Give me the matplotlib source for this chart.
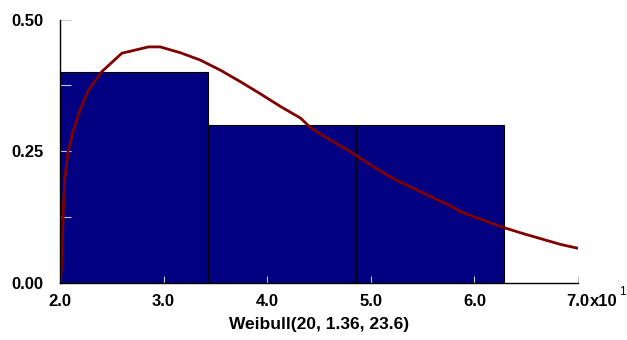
import matplotlib
matplotlib.use("Agg")
import matplotlib.pyplot as plt

# Histogram bins (left edges, widths) and heights
bin_edges = [20.0, 34.3, 48.6, 62.9]
bar_heights = [0.40, 0.30, 0.30]

# Fitted Weibull(20, 1.36, 23.6) curve
curve_x = [20.05, 20.15, 20.22, 20.32, 20.48, 20.80, 21.29, 21.93, 22.74, 24.03,
           25.97, 28.54, 29.67, 31.61, 33.54, 35.47, 37.41, 39.34, 41.28, 43.21,
           44.18, 46.11, 48.05, 49.98, 51.91, 53.85, 55.78, 57.72, 58.68, 60.62,
           62.55, 64.49, 66.42, 68.36, 69.97]
curve_y = [0.000, 0.034, 0.069, 0.139, 0.202, 0.252, 0.290, 0.328, 0.366, 0.401,
           0.436, 0.448, 0.448, 0.437, 0.423, 0.404, 0.382, 0.359, 0.335, 0.313,
           0.295, 0.271, 0.249, 0.224, 0.201, 0.182, 0.164, 0.146, 0.135, 0.121,
           0.107, 0.095, 0.084, 0.073, 0.066]

xticks = [20, 30, 40, 50, 60, 70]
xtick_labels = ["2.0", "3.0", "4.0", "5.0", "6.0", "7.0"]
yticks = [0.0, 0.125, 0.25, 0.375, 0.5]
ytick_labels = ["0.00", "", "0.25", "", "0.50"]
xlabel = "Weibull(20, 1.36, 23.6)"

plt.rcParams['font.family'] = ['Liberation Sans', 'DejaVu Sans']
plt.rcParams['font.weight'] = 'bold'

fig = plt.figure(figsize=(6.27, 3.40), dpi=100)
ax = fig.add_axes([60/627, 1 - 283/340, (578 - 60)/627, (283 - 19.5)/340])

lefts = bin_edges[:-1]
widths = [bin_edges[i + 1] - bin_edges[i] for i in range(len(bin_edges) - 1)]
ax.bar(lefts, bar_heights, width=widths, align='edge', color='#000080',
       edgecolor='black', linewidth=0.8, zorder=2)
ax.plot(curve_x, curve_y, color='#800000', linewidth=2.0, zorder=3,
        solid_joinstyle='round')

ax.set_xlim(20, 70)
ax.set_ylim(0, 0.5)
ax.set_xticks(xticks)
ax.set_xticklabels(xtick_labels, fontsize=12, fontweight='bold')
ax.set_yticks(yticks)
ax.set_yticklabels(ytick_labels, fontsize=12, fontweight='bold')

for s in ['top', 'right']:
    ax.spines[s].set_visible(False)
for s in ['left', 'bottom']:
    ax.spines[s].set_linewidth(1.0)
    ax.spines[s].set_color('black')
    ax.spines[s].set_zorder(4)

ax.tick_params(axis='x', direction='in', length=4.8, width=0.8, color='#c8c8c8', pad=8)
ax.tick_params(axis='y', direction='in', length=8, width=0.8, color='#c8c8c8', pad=12)
for t in ax.xaxis.get_major_ticks() + ax.yaxis.get_major_ticks():
    t.tick1line.set_zorder(5)
ax.set_axisbelow(False)

ax.set_xlabel(xlabel, fontsize=12.5, fontweight='bold', labelpad=6)

# exponent annotation after the last tick label
ax.annotate("x10", xy=(70, 0), xycoords=('data', 'axes fraction'),
            xytext=(8.3, -8), textcoords='offset points', ha='left', va='top',
            fontsize=12, fontweight='bold')
ax.annotate("1", xy=(70, 0), xycoords=('data', 'axes fraction'),
            xytext=(29.5, -2), textcoords='offset points', ha='left', va='top',
            fontsize=8.5, fontweight='normal')

fig.savefig("out.png", dpi=100)
